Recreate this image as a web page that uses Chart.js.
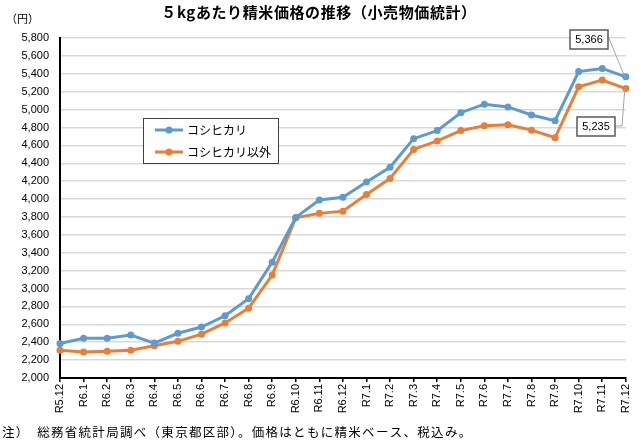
<!DOCTYPE html>
<html>
<head>
<meta charset="utf-8">
<script src="https://cdn.jsdelivr.net/npm/chart.js@4/dist/chart.umd.min.js"></script>
<style>
  html, body { margin: 0; padding: 0; background: #fff; }
  #wrap { width: 641px; height: 443px; position: relative; }
</style>
</head>
<body>
<div id="wrap"><canvas id="rice"></canvas></div>
<script>
const months = [
  "R5.12", "R6.1", "R6.2", "R6.3", "R6.4", "R6.5", "R6.6", "R6.7", "R6.8",
  "R6.9", "R6.10", "R6.11", "R6.12", "R7.1", "R7.2", "R7.3", "R7.4", "R7.5",
  "R7.6", "R7.7", "R7.8", "R7.9", "R7.10", "R7.11", "R7.12",
];
const koshihikari = [
  2385, 2445, 2445, 2480, 2390, 2500, 2570, 2695, 2885, 3295, 3795, 3990,
  4020, 4190, 4355, 4675, 4765, 4965, 5060, 5030, 4940, 4875, 5425, 5460, 5366,
];
const others = [
  2310, 2290, 2300, 2310, 2360, 2410, 2490, 2615, 2780, 3150, 3790, 3840,
  3865, 4050, 4230, 4555, 4650, 4765, 4820, 4830, 4770, 4685, 5255, 5330, 5235,
];
const seriesNames = ["コシヒカリ", "コシヒカリ以外"];
const yMin = 2000, yMax = 5800, yStep = 200;

const titleText = "５kgあたり精米価格の推移（小売物価統計）";
const unitText = "（円）";
const noteText = "注）　総務省統計局調べ（東京都区部）。価格はともに精米ベース、税込み。";

const BLUE = "#5b9bd5";
const ORANGE = "#ed7d31";
const JP = '"Noto Sans CJK JP", sans-serif';

const fmt = (v) => Number(v).toLocaleString("en-US");

// title, unit, footnote, legend and the two value callouts
const decor = {
  id: "decor",
  afterDraw(chart) {
    const ctx = chart.ctx;
    const { x, y } = chart.scales;
    ctx.save();
    ctx.fillStyle = "#000";
    ctx.textBaseline = "middle";

    ctx.font = "bold 15px " + JP;
    ctx.letterSpacing = "0.6px";
    ctx.textAlign = "center";
    ctx.fillText(titleText, 319, 12);

    ctx.font = "11px " + JP;
    ctx.letterSpacing = "0px";
    ctx.textAlign = "left";
    ctx.fillText(unitText, 6, 19);

    ctx.font = "12.5px " + JP;
    ctx.letterSpacing = "1.3px";
    ctx.fillText(noteText, 2, 432);
    ctx.letterSpacing = "0px";

    // legend
    ctx.strokeStyle = "#404040";
    ctx.lineWidth = 1;
    ctx.fillStyle = "#fff";
    ctx.fillRect(143.5, 118.5, 135, 45);
    ctx.strokeRect(143.5, 118.5, 135, 45);
    chart.data.datasets.forEach((ds, i) => {
      const ly = 130 + i * 22;
      ctx.strokeStyle = ds.borderColor;
      ctx.lineWidth = 3;
      ctx.beginPath();
      ctx.moveTo(155, ly);
      ctx.lineTo(183, ly);
      ctx.stroke();
      ctx.fillStyle = ds.borderColor;
      ctx.beginPath();
      ctx.arc(169, ly, 3.5, 0, Math.PI * 2);
      ctx.fill();
      ctx.fillStyle = "#000";
      ctx.font = "12px " + JP;
      ctx.fillText(ds.label, 187, ly);
    });

    // callouts for the last month
    const last = months.length - 1;
    const px = x.getPixelForValue(last);
    const callouts = [
      { value: koshihikari[last], box: [570, 30, 38, 19], path: [[608, 36]] },
      { value: others[last], box: [577, 117, 38, 19], path: [[622, 126], [615, 126]] },
    ];
    callouts.forEach((c) => {
      const py = y.getPixelForValue(c.value);
      ctx.strokeStyle = "#a6a6a6";
      ctx.lineWidth = 1;
      ctx.beginPath();
      ctx.moveTo(px - 1, py);
      c.path.forEach((p) => ctx.lineTo(p[0], p[1]));
      ctx.stroke();
      const [bx, by, bw, bh] = c.box;
      ctx.fillStyle = "#fff";
      ctx.fillRect(bx, by, bw, bh);
      ctx.strokeStyle = "#595959";
      ctx.lineWidth = 1.5;
      ctx.strokeRect(bx, by, bw, bh);
      ctx.fillStyle = "#000";
      ctx.font = '11px "Liberation Sans", sans-serif';
      ctx.textAlign = "center";
      ctx.fillText(fmt(c.value), bx + bw / 2, by + bh / 2 + 0.5);
      ctx.textAlign = "left";
    });
    ctx.restore();
  },
};

const ctx = document.getElementById("rice");
const riceChart = new Chart(ctx, {
  type: "line",
  data: {
    labels: months,
    datasets: [
      {
        label: seriesNames[0],
        data: koshihikari,
        borderColor: BLUE,
        backgroundColor: BLUE,
        borderWidth: 3,
        pointRadius: 3.5,
        pointBorderWidth: 0,
        tension: 0,
      },
      {
        label: seriesNames[1],
        data: others,
        borderColor: ORANGE,
        backgroundColor: ORANGE,
        borderWidth: 3,
        pointRadius: 3.5,
        pointBorderWidth: 0,
        tension: 0,
      },
    ],
  },
  options: {
    responsive: true,
    maintainAspectRatio: false,
    animation: false,
    layout: { padding: { top: 38, right: 10, bottom: 0, left: 0 } },
    plugins: {
      legend: { display: false },
      title: { display: false },
      tooltip: { enabled: false },
    },
    scales: {
      x: {
        offset: false,
        grid: {
          drawOnChartArea: false,
          drawTicks: true,
          tickLength: 4,
          color: "#000",
          lineWidth: 1.5,
        },
        border: { display: true, color: "#000", width: 2 },
        ticks: {
          autoSkip: false,
          minRotation: 90,
          maxRotation: 90,
          padding: 2,
          color: "#000",
          font: { family: '"Liberation Sans", sans-serif', size: 11 },
        },
        afterFit: (scale) => {
          scale.height = 65;
        },
      },
      y: {
        min: yMin,
        max: yMax,
        grid: { color: "#d9d9d9", lineWidth: 1.5, drawTicks: false },
        border: { display: true, color: "#000", width: 2 },
        ticks: {
          stepSize: yStep,
          padding: 11,
          color: "#000",
          callback: (value) => fmt(value),
          font: { family: '"Liberation Sans", sans-serif', size: 11 },
        },
        afterFit: (scale) => {
          scale.width = 60;
        },
      },
    },
  },
  plugins: [decor],
});
</script>
</body>
</html>
